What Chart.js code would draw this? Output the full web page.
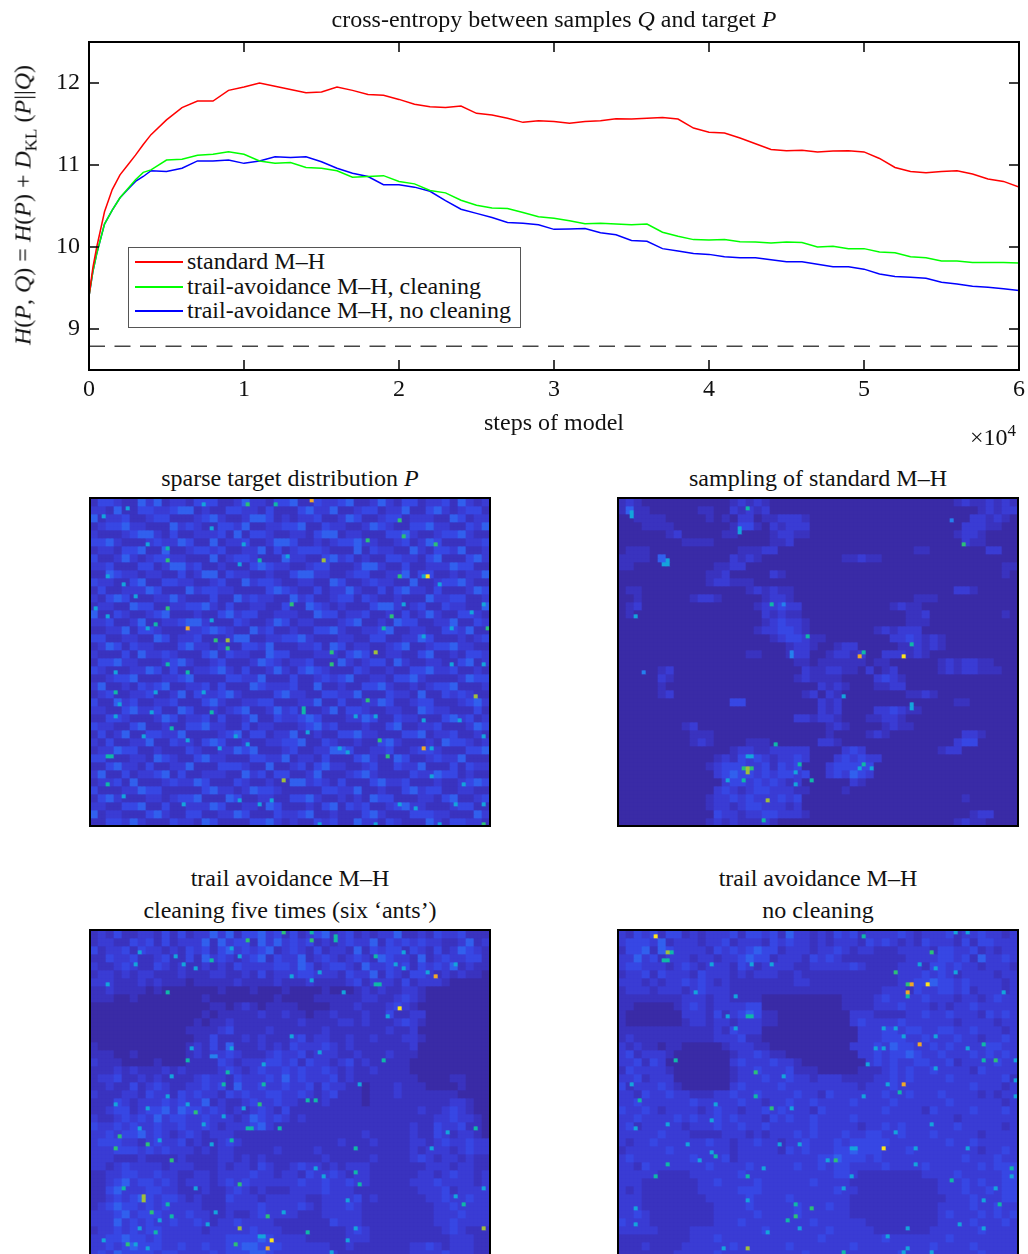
<!DOCTYPE html>
<html>
<head>
<meta charset="utf-8">
<title>cross-entropy between samples and target</title>
<script src="https://cdn.jsdelivr.net/npm/chart.js@4/dist/chart.umd.min.js"></script>
<style>
  html, body { margin: 0; background: #fff; }
  #page { position: relative; width: 1028px; height: 1254px; overflow: hidden; font-family: "Liberation Serif", serif; font-size: 24px; color: #111; }
  #page canvas { position: absolute; }
  #page canvas.heat { filter: blur(0.45px); }
  .box { position: absolute; width: 398px; height: 326px; border: 2px solid #000; }
  .label { position: absolute; white-space: nowrap; transform: translateX(-50%); line-height: 32px; }
  sub, sup { font-size: 17px; line-height: 0; }
  #ylabel { position: absolute; left: 23px; top: 205px; white-space: nowrap; transform: translate(-50%, -50%) rotate(-90deg); }
  #legend { position: absolute; left: 128px; top: 247px; width: 391px; height: 78px; border: 1px solid #555; background: #fff; padding-top: 1px; }
  #legend div { position: relative; height: 24.7px; line-height: 25px; padding-left: 58px; white-space: nowrap; }
  #legend i { position: absolute; left: 6px; top: 12px; width: 48px; height: 2px; }
</style>
</head>
<body>
<div id="page">
  <canvas id="lines" width="1028" height="445" style="left:0;top:0"></canvas>
  <div class="label" style="left:554px;top:3px">cross-entropy between samples <em>Q</em> and target <em>P</em></div>
  <div id="ylabel"><em>H</em>(<em>P</em>, <em>Q</em>) = <em>H</em>(<em>P</em>) + <em>D</em><sub>KL</sub> (<em>P</em>||<em>Q</em>)</div>
  <div class="label" style="left:554px;top:406px">steps of model</div>
  <div class="label" style="left:993px;top:421px">×10<sup>4</sup></div>
  <div id="legend"></div>

  <div class="label" style="left:290px;top:462px">sparse target distribution <em>P</em></div>
  <div class="label" style="left:818px;top:462px">sampling of standard M–H</div>
  <div class="label" style="left:290px;top:862px">trail avoidance M–H</div>
  <div class="label" style="left:290px;top:894px">cleaning five times (six ‘ants’)</div>
  <div class="label" style="left:818px;top:862px">trail avoidance M–H</div>
  <div class="label" style="left:818px;top:894px">no cleaning</div>

  <canvas class="heat" id="heatP" width="402" height="330" style="left:89px;top:497px"></canvas>
  <canvas class="heat" id="heatStd" width="402" height="330" style="left:617px;top:497px"></canvas>
  <canvas class="heat" id="heatClean" width="402" height="330" style="left:89px;top:929px"></canvas>
  <canvas class="heat" id="heatNoClean" width="402" height="330" style="left:617px;top:929px"></canvas>
  <div class="box" style="left:89px;top:497px"></div>
  <div class="box" style="left:617px;top:497px"></div>
  <div class="box" style="left:89px;top:929px"></div>
  <div class="box" style="left:617px;top:929px"></div>
</div>

<script>
// ── Line chart data (x in units of 10^4 steps) ──
const steps = [0,0.025,0.05,0.1,0.15,0.2,0.25,0.3,0.35,0.4,0.5,0.6,0.7,0.8,0.9,1,1.1,1.2,1.3,1.4,1.5,1.6,1.7,1.8,1.9,2,2.1,2.2,2.3,2.4,2.5,2.6,2.7,2.8,2.9,3,3.1,3.2,3.3,3.4,3.5,3.6,3.7,3.8,3.9,4,4.1,4.2,4.3,4.4,4.5,4.6,4.7,4.8,4.9,5,5.1,5.2,5.3,5.4,5.5,5.6,5.7,5.8,5.9,6];
const standardMH = [9.4,9.75,10,10.43,10.7,10.88,11,11.12,11.25,11.37,11.55,11.7,11.78,11.78,11.91,11.95,12,11.96,11.92,11.88,11.89,11.95,11.91,11.86,11.85,11.8,11.74,11.71,11.7,11.72,11.63,11.61,11.57,11.52,11.54,11.53,11.51,11.53,11.54,11.565,11.56,11.57,11.58,11.56,11.45,11.4,11.39,11.33,11.26,11.19,11.175,11.18,11.16,11.17,11.175,11.16,11.08,10.97,10.92,10.905,10.92,10.93,10.89,10.83,10.8,10.73];
const avoidCleaning = [9.4,9.7,9.92,10.28,10.45,10.6,10.71,10.82,10.91,10.94,11.06,11.07,11.12,11.13,11.16,11.13,11.05,11.02,11.03,10.97,10.96,10.93,10.85,10.86,10.87,10.8,10.77,10.69,10.66,10.57,10.51,10.475,10.47,10.42,10.37,10.35,10.32,10.285,10.29,10.28,10.27,10.28,10.18,10.13,10.09,10.085,10.09,10.065,10.06,10.05,10.06,10.055,10,10.01,9.98,9.98,9.94,9.93,9.88,9.87,9.83,9.83,9.81,9.81,9.81,9.805];
const avoidNoCleaning = [9.4,9.7,9.92,10.28,10.45,10.6,10.7,10.8,10.86,10.93,10.92,10.96,11.05,11.05,11.06,11.02,11.05,11.1,11.09,11.1,11.04,10.96,10.9,10.86,10.76,10.76,10.73,10.68,10.565,10.46,10.41,10.36,10.3,10.29,10.27,10.215,10.22,10.225,10.175,10.15,10.08,10.07,9.98,9.95,9.92,9.91,9.88,9.87,9.87,9.845,9.82,9.82,9.79,9.76,9.76,9.73,9.67,9.64,9.63,9.62,9.57,9.55,9.52,9.51,9.49,9.47];
const targetEntropy = 8.79;
const xTicks = [0,1,2,3,4,5,6];
const yTicks = [9,10,11,12];
const seriesNames = ['standard M–H','trail-avoidance M–H, cleaning','trail-avoidance M–H, no cleaning'];

// ── Heat maps: coarse density (one char = 2×2 cells) ──
const targetRows = [
'13321142412213331124221334113223411242133122314212',
'22141133223441211332213111342241123312241134212331',
'41223112331112342112443121223112431123312221143122',
'12334221114232113324112233411322112432113342211324',
'21112344213112223141332112213441221113342112334211',
'33421112322431141223112443112123342211231243111223',
'12213341141123323112241312333211141322114213324112',
'31124212332211141233211142211342312113322134111342',
'22311133124423112111343221123311124421131122243311',
'11432212211312441322112113442211233112241331121224',
'32211341133221123114233211221143112322114112334211',
'13112224311142332211113432113122421131342213111243',
'21343111224211131142322114231123313211211142233112',
'12211433112233421311221131143212111344212311322114',
'41132112341112113423311222114331223112131242113321',
'22311241122344211132112431221112341121433112241132',
'11224133211122343211423112113342112234112211332411',
'33112211431223111244112233421112211331122431112123',
'12431322111342212113324111223143122112341123342211',
'21113142232111341322114331112221343112211341121332',
'13342211123421123111243212231114212331421122113412',
'32111224313112234213112421343211132112113342231121',
'11233411122341111332241113112323411221334211112433',
'24112132341122313111432223114112113342112123341112',
'12311223112413223421111342211332241113221411323211',
'31142311223111342112233111224113112243112331112342',
'22113422311431121234112423111241332112211432211131',
'11332111243122313112411322343111224311322111342312',
'32211341121133422113122111234231112113411223111243',
'13124113322411112341331224112113342211133412231121',
'21311224113221343112112233411321121134211121433212',
'12243311211132112243411123112244311223112332111334',
'33111221432113422111332241221311134211431123224111',
'11342213112241113332114112313422112311322411131322',
'24113122341311222114231331124111234211113224331211',
'12231411123224311132112114423213111342231112112343',
'31112243311111342212433211111332241121134233112211',
'13421112212334111431122113342112121433111221341123',
'22113341131122243112214311121341323112342211123311',
'41221113421133112243111322341121113421113332211142',
'11332421113221431111334212113231142213211142133221'
];
const standardRows = [
'12100000000000121210000000000000000000000012112121',
'14110000001100212120000000000000000000000000012122',
'00111100000101022011222100000000000000000000221210',
'00011110000000133102122200000000000000000002221100',
'00000012000001100001221100000000000000000012210000',
'00000000111100000001120000000000000000000002110000',
'01110000000000011122000000000000000001100000002200',
'11110400000000212100000000001121100000000000000000',
'11000000000011220000000000000000000000000000000011',
'00000000000112000002100000000000000000000000000010',
'00000000000122111000000000000000000000000000000000',
'01100000000000001212110000000000000000000022100000',
'00100000012210000012210000000000000001110000000000',
'01200000000000000122322000000000001211000000000000',
'01000000000000000021211000000000000011200000000010',
'00000000000000000012322100000000000011100000000000',
'00000000000000000122332100000000121222000000000000',
'00000000000000000001233211000000002232121000000000',
'00000000000000000000012210012200000112121000000000',
'00000000000000001100012200122120022212100000000000',
'00000000000000000000001101111110110000001212211000',
'00000120000000000000000211221102012000001212211100',
'00000210000000000000001211110000232100000000000000',
'00000100000000000000000002121000112200000000000000',
'00000120000000000000000120210000000011210000000000',
'00000000000000330000000002120000000000000011000000',
'00000000000000000000000002120000223211000000000000',
'00000000000000000000002212210001122100000000000000',
'00000000120000000000000000121000012110000000000000',
'00000000011100000000000000100001210000000002210000',
'00000000012100001110000002210000000000000023300000',
'00000000000000122112222200002320000000001220000000',
'00000000000012132321223200023232200000000000000000',
'00000000000123332231323000233333000000000000000000',
'00000000000023433232332300232432000000000000000000',
'00000000000002332323212000000210000000000000000000',
'00000000000023212332221100001000000000000000000000',
'00000000000122323222323000000000000000000001000000',
'00000000000122123322212000000000000000000000000000',
'00000000000032212233222100000000000000000000122000',
'00000000000121211121000000000000000000000012110000'
];
const cleaningRows = [
'12131122131312242413342313123412312122411213223111',
'12211323131222414233142423231212322413232322112412',
'31223132212132313423234123213122141323313213124321',
'11322311231131423212341322412321232143221412322331',
'21123211321211212132222332431233214223231323241211',
'12212122111211122112131222332221322413213321212110',
'22211121211101111121111211121111231222131222100000',
'11211110100000001000100010000100012121122100000000',
'11100100000000100000000100001111112211232100000000',
'00000000000000011012101111000011121112321000000000',
'00000000000000101111121121101121112113112200000000',
'00000000000001011211111111211112212111232100000000',
'00000000000011112311112111111211111112112000000000',
'00000000000001131112121112312211211211122100000000',
'10000000000012131411121213222321211111112000000000',
'11100100000012122321112322312221121112111000000000',
'21110000100011113212223323132212312111110000000000',
'11121211121211112321232232322321211211110000000000',
'12231121211112322132223242322231211111111000011000',
'11211312321122323142232232231322110111211100001000',
'21112213221323221323223322321231110111211111110000',
'11132122232322412112322322111211110111111111122100',
'11233123342433232121232131111111111111111211232100',
'21123232423322322212432321211111111111111112232210',
'32232322322322321222342111111111111111112113223110',
'22323342321232122211111111111111112111112113212210',
'23332212322312112321111111111112111211112212322322',
'22233323232221212211111211112111111111112122212322',
'22211121111211112212121111111211111211112321221211',
'22123222212221112122132112322121222111111122212211',
'11223322322112212222322122132232122111111221232212',
'11234233232122212323222222322322322111112223222212',
'11342223322111211232121112222322211111111222312222',
'11232343233212111322212222211222231211111122322322',
'12343323232222111222232222321222321111111112232222',
'22234233322232211211232222111222221111111112223222',
'22242323223223212232222111111132221111111112232222',
'12232323322222122222322211111111232111111111232111',
'22334332322222222333343222211111222111111111122211',
'22323433322322322334433322222211211111112232122211',
'23243333233222232333443222222221111111112222322211'
];
const noCleaningRows = [
'21323133121222313323142212132312222321222312232212',
'23332412221223122213232212122213232121322213133222',
'13341432222132323433122212232122111222213322312122',
'22423122212212234331222132321111111122223323142232',
'23322212321222132122221122222321111222133232212221',
'12231322213222121222112111111111111222323212222122',
'22212122323212111111112211111111111223343323222212',
'12221222123222111111111111111111122213223323122212',
'11111111222122111100000000001111232222322212212322',
'11000001232122223300000000001111222322212122322222',
'10000000222131234311000000000222111122322322213232',
'10000000122122122211000000000232222322222212222122',
'11111111111121322200000000000022233233223322322212',
'12111111111122231100000000000022233322322232212232',
'21211011000001222110000000000222324332232322223322',
'23122210000000122321100000000022323343223222323232',
'22313200000000232223221000000002323223322312222322',
'13222210000000122322231110000011123232232222132222',
'22312220000000122232232212221111223232222322222231',
'31222321000000232222322222222212223222222222322212',
'22132232211122322322223221322222232232223222212122',
'22322222232222232212232232222322223222222322222212',
'32232122221232212232322213222222232222132222322232',
'22322223232232322213232232222322222222222212222222',
'23122222122232232232222232222212232322222232222212',
'22222322211112221212223232223223322322232222212222',
'21223222222322122322122322232333332222222322322222',
'12222232222222122222132322233433322232222222212232',
'23222222232223122222222223343332322222222223222322',
'22132222222322223222223223233222232222322222232333',
'22222111122222232222222222233211111111222232222233',
'22211111112232222322222232222111111111112223232233',
'21211111112222233322222222232211111111112223223233',
'22211111111222223222232222222111111111111222322233',
'22211111111122223222223222322111111111112222322322',
'22321111111122222322223222222111111111112322232323',
'32221111111122232222222232222221111111112222322232',
'22222111122222222232222222322222111111122222232222',
'11111111122232222222222223222222232222222322222222',
'11121111222222322222232222222322222222232222322222',
'11111112222232222222222322222222222322222222232222'
];

// bright single cells: [column, row, level]
const targetHot = [[55,0,10],[39,1,8],[46,1,7],[19,12,7],[19,15,8],[58,15,9],[42,15,7],[77,5,8],[78,9,8],[69,10,8],[86,11,8],[77,19,8],[84,19,11],[83,19,6],[19,27,8],[50,26,8],[75,29,8],[24,32,10],[31,35,8],[34,35,9],[34,37,8],[60,38,8],[60,41,8],[71,38,9],[96,49,9],[69,50,8],[72,60,8],[83,62,10],[74,64,8],[48,70,9],[98,81,8],[99,32,8],[30,30,6],[73,32,7],[19,41,7],[24,43,7],[16,31,7],[4,64,7],[5,64,7],[20,57,7],[30,53,7],[53,52,7],[53,53,7],[6,48,7],[4,71,7],[9,2,6],[3,4,6],[28,1,6],[30,7,6],[38,11,6],[14,11,6],[49,14,6],[37,16,6],[4,19,6],[8,21,6],[11,24,6],[1,27,6],[4,29,6],[14,32,6],[78,26,6],[98,26,6],[87,21,6],[95,28,6],[90,32,6],[83,34,6],[98,41,6],[90,41,6],[6,43,6],[16,48,6],[28,48,6],[7,51,6],[15,53,6],[6,54,6],[13,59,6],[24,60,6],[36,59,6],[39,61,6],[32,62,6],[8,74,6],[23,76,6],[42,76,6],[45,75,6],[37,75,6],[54,58,6],[62,62,6],[64,63,6],[66,54,6],[71,54,6],[83,55,6],[92,55,6],[98,59,6],[85,62,6],[98,76,6],[81,77,6],[91,76,6],[77,76,6],[87,81,6],[71,81,6],[57,81,6],[93,71,6],[85,69,6]];
const standardHot = [[3,4,6],[3,3,6],[32,2,7],[30,7,6],[30,8,6],[86,11,8],[11,16,6],[12,16,6],[12,15,6],[4,29,6],[38,26,7],[41,26,5],[47,34,7],[43,38,5],[43,39,5],[61,38,7],[60,39,10],[71,39,11],[73,36,7],[6,43,5],[56,49,6],[73,51,6],[73,52,6],[39,61,7],[32,67,9],[31,67,8],[33,67,8],[32,68,9],[31,70,7],[27,70,6],[45,66,7],[44,68,6],[48,70,7],[44,71,6],[61,66,7],[60,67,6],[63,67,6],[37,75,9],[83,5,5],[36,80,7],[32,64,6],[33,64,6]];
const cleaningHot = [[39,2,8],[48,0,8],[55,0,7],[55,2,8],[61,1,7],[61,2,7],[30,7,7],[71,6,7],[86,11,10],[71,13,7],[72,13,7],[77,19,11],[19,15,7],[30,31,5],[31,31,5],[24,32,7],[73,32,7],[34,35,7],[33,38,7],[43,38,7],[42,43,8],[26,45,8],[54,42,7],[56,42,7],[39,49,7],[40,49,7],[47,49,7],[35,52,7],[7,51,8],[6,54,8],[14,53,8],[20,57,8],[66,54,7],[37,63,8],[13,66,9],[13,67,9],[19,68,7],[15,70,8],[20,71,7],[8,64,7],[44,71,8],[37,74,9],[45,77,11],[44,79,10],[98,74,9],[36,78,8],[9,78,8],[16,75,7],[54,75,7],[66,60,7],[67,63,7],[93,68,7],[96,49,7],[12,5,6],[21,6,6],[11,8,6],[23,8,6],[26,9,6],[35,4,6],[37,6,6],[50,11,6],[55,12,6],[57,10,6],[76,8,6],[78,9,6],[78,5,6],[84,10,6],[91,8,6],[4,13,6],[63,15,6],[74,21,6],[35,29,6],[25,29,6],[50,26,6],[57,30,6],[43,33,6],[20,36,6],[67,38,6],[6,43,6],[19,41,6],[24,43,6],[14,44,6],[33,46,6],[28,48,6],[12,49,6],[38,44,6],[17,52,6],[30,53,6],[89,50,6],[85,54,6],[56,59,6],[58,61,6],[26,64,6],[64,67,6],[98,64,6],[91,66,6],[31,70,6],[48,70,6],[17,72,6],[12,74,6],[29,73,6],[66,74,6],[64,77,6],[42,76,6],[43,76,6],[11,78,6],[14,79,6],[3,77,6],[60,80,6]];
const noCleaningHot = [[9,1,11],[12,5,9],[13,5,7],[11,7,7],[12,7,7],[61,1,7],[78,5,8],[69,10,8],[72,13,8],[73,13,10],[72,15,10],[72,16,7],[77,13,11],[32,21,7],[33,21,7],[75,28,10],[14,32,7],[34,35,8],[71,38,10],[70,40,7],[94,32,8],[91,28,7],[91,32,7],[5,42,7],[38,44,8],[34,41,7],[66,54,11],[24,56,7],[54,57,8],[12,58,7],[9,61,7],[32,61,7],[44,68,7],[48,69,8],[44,71,8],[42,72,7],[83,62,7],[95,68,7],[32,79,9],[56,80,7],[23,47,6],[98,59,7],[58,54,6],[59,54,6],[38,8,6],[33,8,6],[23,8,6],[19,15,6],[29,16,6],[27,21,6],[29,24,6],[66,24,6],[69,24,6],[64,29,6],[66,29,6],[62,33,6],[71,26,6],[79,26,6],[87,29,6],[99,32,6],[96,15,6],[79,9,6],[84,10,6],[75,8,6],[61,41,6],[67,38,6],[79,34,6],[99,37,6],[99,41,6],[41,36,6],[43,44,6],[24,43,6],[3,38,6],[12,48,6],[4,49,6],[17,53,6],[23,55,6],[20,57,6],[36,59,6],[40,53,6],[45,53,6],[52,57,6],[58,61,6],[56,64,6],[69,50,6],[78,48,6],[74,54,6],[74,58,6],[87,54,6],[94,64,6],[91,67,6],[98,61,6],[32,67,6],[4,69,6],[4,73,6],[37,75,6],[45,74,6],[67,76,6],[72,74,6],[85,73,6],[91,74,6],[26,79,6],[71,80,6],[72,79,6],[78,80,6],[84,0,6],[87,0,6]];

// ── Styles ──
const LEVEL_COLORS = ['#3a2ba6','#3a33bf','#3a3cd4','#3747e4','#3160ee','#2580ee','#14a4dc','#10b8a8','#2cc078','#a0bf3c','#f0a828','#fde41c'];
const LINE_COLORS = ['#ff0000','#00ff00','#0000ff'];
const HEAT_COLS = 100;
const HEAT_ROWS = 82;

const frame = {
  id: 'frame',
  afterDatasetsDraw(chart) {
    const { ctx, chartArea: a, scales } = chart;
    ctx.save();
    ctx.strokeStyle = '#000';
    ctx.lineWidth = 2;
    ctx.strokeRect(a.left, a.top, a.right - a.left, a.bottom - a.top);
    ctx.lineWidth = 1.5;
    ctx.beginPath();
    xTicks.forEach(t => {
      const x = scales.x.getPixelForValue(t);
      ctx.moveTo(x, a.top); ctx.lineTo(x, a.top + 10);
      ctx.moveTo(x, a.bottom); ctx.lineTo(x, a.bottom - 10);
    });
    yTicks.forEach(t => {
      const y = scales.y.getPixelForValue(t);
      ctx.moveTo(a.left, y); ctx.lineTo(a.left + 10, y);
      ctx.moveTo(a.right, y); ctx.lineTo(a.right - 10, y);
    });
    ctx.stroke();
    ctx.restore();
  }
};

// ── Line chart ──
const toPoints = ys => steps.map((x, i) => ({ x, y: ys[i] }));
const tickFont = { family: '"Liberation Serif", serif', size: 24 };

new Chart(document.getElementById('lines'), {
  type: 'line',
  data: {
    datasets: [
      { data: [{ x: 0, y: targetEntropy }, { x: 6, y: targetEntropy }], borderColor: '#444', borderWidth: 1.5, borderDash: [16, 9.5] },
      { data: toPoints(standardMH), borderColor: LINE_COLORS[0], borderWidth: 1.5 },
      { data: toPoints(avoidCleaning), borderColor: LINE_COLORS[1], borderWidth: 1.5 },
      { data: toPoints(avoidNoCleaning), borderColor: LINE_COLORS[2], borderWidth: 1.5 },
    ]
  },
  options: {
    responsive: false,
    animation: false,
    events: [],
    layout: { autoPadding: false, padding: { top: 42, right: 9, left: 0, bottom: 0 } },
    elements: { point: { radius: 0 }, line: { tension: 0 } },
    plugins: { legend: { display: false }, tooltip: { enabled: false } },
    scales: {
      x: {
        type: 'linear', min: 0, max: 6,
        afterFit: s => { s.height = 445 - 370; },
        afterBuildTicks: s => { s.ticks = xTicks.map(value => ({ value })); },
        grid: { display: false }, border: { display: false },
        ticks: { font: tickFont, color: '#111', padding: -3, maxRotation: 0 }
      },
      y: {
        type: 'linear', min: 8.5, max: 12.5,
        afterFit: s => { s.width = 89; },
        afterBuildTicks: s => { s.ticks = yTicks.map(value => ({ value })); },
        grid: { display: false }, border: { display: false },
        ticks: { font: tickFont, color: '#111', padding: 1 }
      }
    }
  },
  plugins: [frame]
});

// legend is plain html so it can sit inside the plot like the original
const legendEl = document.getElementById('legend');
seriesNames.forEach((name, i) => {
  const row = document.createElement('div');
  row.innerHTML = `<i style="background:${LINE_COLORS[i]}"></i>${name}`;
  legendEl.appendChild(row);
});

// ── Heat maps (floating bars, one dataset per row) ──
function drawHeat(id, rows, hot) {
  const hotMap = {};
  hot.forEach(([c, r, level]) => {
    const key = `${c},${r}`;
    if (!(key in hotMap)) hotMap[key] = level;
  });
  const labels = Array.from({ length: HEAT_COLS }, (_, c) => c);
  const datasets = [];
  for (let r = 0; r < HEAT_ROWS; r++) {
    const coarse = rows[Math.floor(r / 2)];
    datasets.push({
      data: labels.map(() => [r, r + 1]),
      backgroundColor: labels.map(c => {
        const key = `${c},${r}`;
        const level = key in hotMap ? hotMap[key] : Number(coarse[Math.floor(c / 2)] || 0);
        return LEVEL_COLORS[level];
      }),
      borderWidth: 0,
      barPercentage: 1,
      categoryPercentage: 1,
      grouped: false
    });
  }
  new Chart(document.getElementById(id), {
    type: 'bar',
    data: { labels, datasets },
    options: {
      responsive: false,
      animation: false,
      events: [],
      layout: { autoPadding: false, padding: 1 },
      plugins: { legend: { display: false }, tooltip: { enabled: false } },
      scales: {
        x: { display: false, offset: true },
        y: { display: false, type: 'linear', min: 0, max: HEAT_ROWS, reverse: true }
      }
    }
  });
}

drawHeat('heatP', targetRows, targetHot);
drawHeat('heatStd', standardRows, standardHot);
drawHeat('heatClean', cleaningRows, cleaningHot);
drawHeat('heatNoClean', noCleaningRows, noCleaningHot);
</script>
</body>
</html>
